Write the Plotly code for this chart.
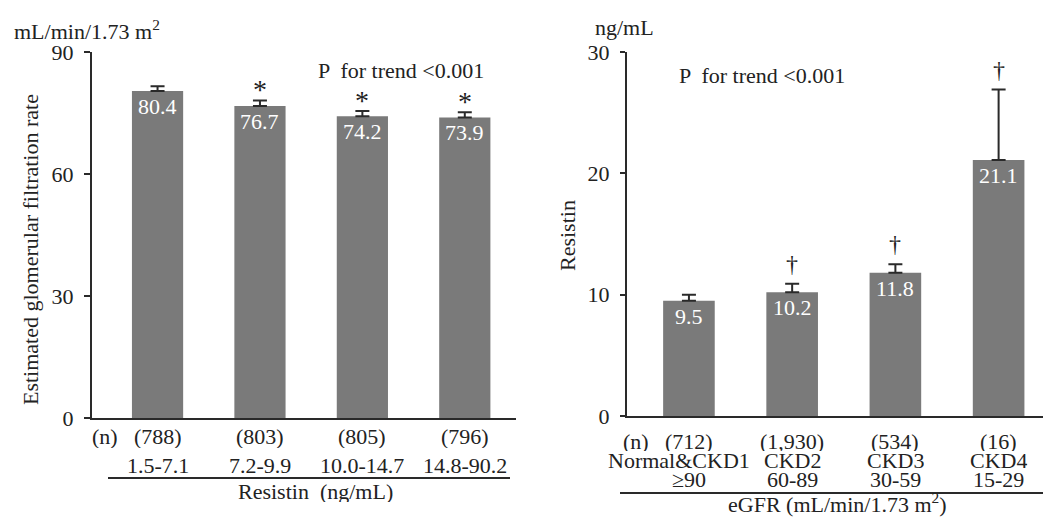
import plotly.graph_objects as go

# ---- data ----
left_groups = ["1.5-7.1", "7.2-9.9", "10.0-14.7", "14.8-90.2"]
left_n = ["(788)", "(803)", "(805)", "(796)"]
left_vals = [80.4, 76.7, 74.2, 73.9]
left_err = [1.2, 1.4, 1.3, 1.3]
left_sig = ["", "*", "*", "*"]

right_groups = ["Normal&CKD1", "CKD2", "CKD3", "CKD4"]
right_ranges = ["\u226590", "60-89", "30-59", "15-29"]
right_n = ["(712)", "(1,930)", "(534)", "(16)"]
right_vals = [9.5, 10.2, 11.8, 21.1]
right_err = [0.5, 0.7, 0.7, 5.8]
right_sig = ["", "\u2020", "\u2020", "\u2020"]

W, H = 1043, 517
FONT = "Liberation Serif"
FS = 22
AX = "#2a2a2a"
BAR = "#7a7a7a"


def px(x):
    return x / W


def py(y):
    return 1 - y / H


fig = go.Figure()

fig.add_trace(go.Bar(
    x=left_groups, y=left_vals, width=0.5, marker=dict(color=BAR, line=dict(width=0)),
    error_y=dict(type="data", array=left_err, arrayminus=[0] * len(left_err), symmetric=False,
                 color=AX, thickness=2, width=7),
    xaxis="x", yaxis="y", showlegend=False, hoverinfo="skip"))

fig.add_trace(go.Bar(
    x=right_groups, y=right_vals, width=0.5, marker=dict(color=BAR, line=dict(width=0)),
    error_y=dict(type="data", array=right_err, arrayminus=[0] * len(right_err), symmetric=False,
                 color=AX, thickness=2, width=7),
    xaxis="x2", yaxis="y2", showlegend=False, hoverinfo="skip"))

axis_common = dict(showline=True, linecolor=AX, linewidth=2, showgrid=False, zeroline=False,
                   automargin=False)

fig.update_layout(
    template="none",
    width=W, height=H, margin=dict(l=0, r=0, t=0, b=0, pad=0), autosize=False,
    paper_bgcolor="white", plot_bgcolor="white",
    font=dict(family=FONT, size=FS, color="#222"),
    xaxis=dict(domain=[px(92), px(516)], range=[-0.64, 3.5], showticklabels=False, ticks="",
               anchor="y", **axis_common),
    yaxis=dict(domain=[py(418), py(52)], range=[0, 90], tickvals=[0, 30, 60, 90], ticks="outside",
               ticklen=6, tickwidth=2, tickcolor=AX, ticklabelstandoff=6, anchor="x",
               tickfont=dict(family=FONT, size=FS, color="#222"), **axis_common),
    xaxis2=dict(domain=[px(627), 1.0], range=[-0.6, 3.43], showticklabels=False, ticks="",
                anchor="y2", **axis_common),
    yaxis2=dict(domain=[py(416), py(52)], range=[0, 30], tickvals=[0, 10, 20, 30], ticks="outside",
                ticklen=5, tickwidth=2, tickcolor=AX, ticklabelstandoff=6, anchor="x2",
                tickfont=dict(family=FONT, size=FS, color="#222"), **axis_common),
)

ann = []
f = dict(family=FONT, size=FS, color="#222")


def note(x, y, text, xref="paper", yref="paper", **kw):
    d = dict(x=x, y=y, xref=xref, yref=yref, text=text, showarrow=False,
             xanchor="center", yanchor="middle", font=f)
    d.update(kw)
    ann.append(d)


# value labels inside bars
for g, v in zip(left_groups, left_vals):
    note(g, v, f"{v:.1f}", "x", "y", yanchor="top", yshift=-1,
         font=dict(family=FONT, size=FS, color="white"))
for g, v in zip(right_groups, right_vals):
    note(g, v, f"{v:.1f}", "x2", "y2", yanchor="top", yshift=-1,
         font=dict(family=FONT, size=FS, color="white"))

# significance marks
for g, v, e, s in zip(left_groups, left_vals, left_err, left_sig):
    if s:
        note(g, v + e, s, "x", "y", yanchor="bottom", yshift=-7,
             font=dict(family=FONT, size=28, color="#222"))
for g, v, e, s in zip(right_groups, right_vals, right_err, right_sig):
    if s:
        note(g, v + e, s, "x2", "y2", yanchor="bottom", yshift=5,
             font=dict(family=FONT, size=24, color="#222"))

# category labels (left)
for g, n in zip(left_groups, left_n):
    note(g, py(436), n, "x", "paper", height=24)
    note(g, py(465), g, "x", "paper", height=24)
# category labels (right)
for g, n, r in zip(right_groups, right_n, right_ranges):
    note(g, py(441), n, "x2", "paper", height=19)
    note(g, py(460), g, "x2", "paper", height=19, xshift=(-10 if g == "Normal&CKD1" else 0))
    note(g, py(479), r, "x2", "paper", height=19)

# (n) markers
note(px(105), py(436), "(n)", height=24)
note(px(636), py(441), "(n)", height=19)

# group axis titles
note(px(315), py(491), "Resistin  (ng/mL)", height=22)
note(px(837), py(503), "eGFR (mL/min/1.73 m<sup>2</sup>)")

# y titles
note(px(30), py(250), "Estimated glomerular filtration rate", textangle=-90)
note(px(567), py(236), "Resistin", textangle=-90)

# units
note(px(12), py(30), "mL/min/1.73 m<sup>2</sup>", xanchor="left")
note(px(593), py(28), "ng/mL", xanchor="left")

# P for trend
note(px(401), py(70), "P  for trend <0.001")
note(px(762), py(75), "P  for trend <0.001")

fig.update_layout(annotations=ann)

# underline rules
fig.add_shape(type="line", xref="paper", yref="paper", x0=px(108), x1=px(510), y0=py(478),
              y1=py(478), line=dict(color=AX, width=2))
fig.add_shape(type="line", xref="paper", yref="paper", x0=px(620), x1=1.0, y0=py(493),
              y1=py(493), line=dict(color=AX, width=2))

fig.write_html(
    "out.html",
    config={"displayModeBar": False},
    post_script="document.body.style.margin='0';document.body.style.overflow='hidden';",
)
